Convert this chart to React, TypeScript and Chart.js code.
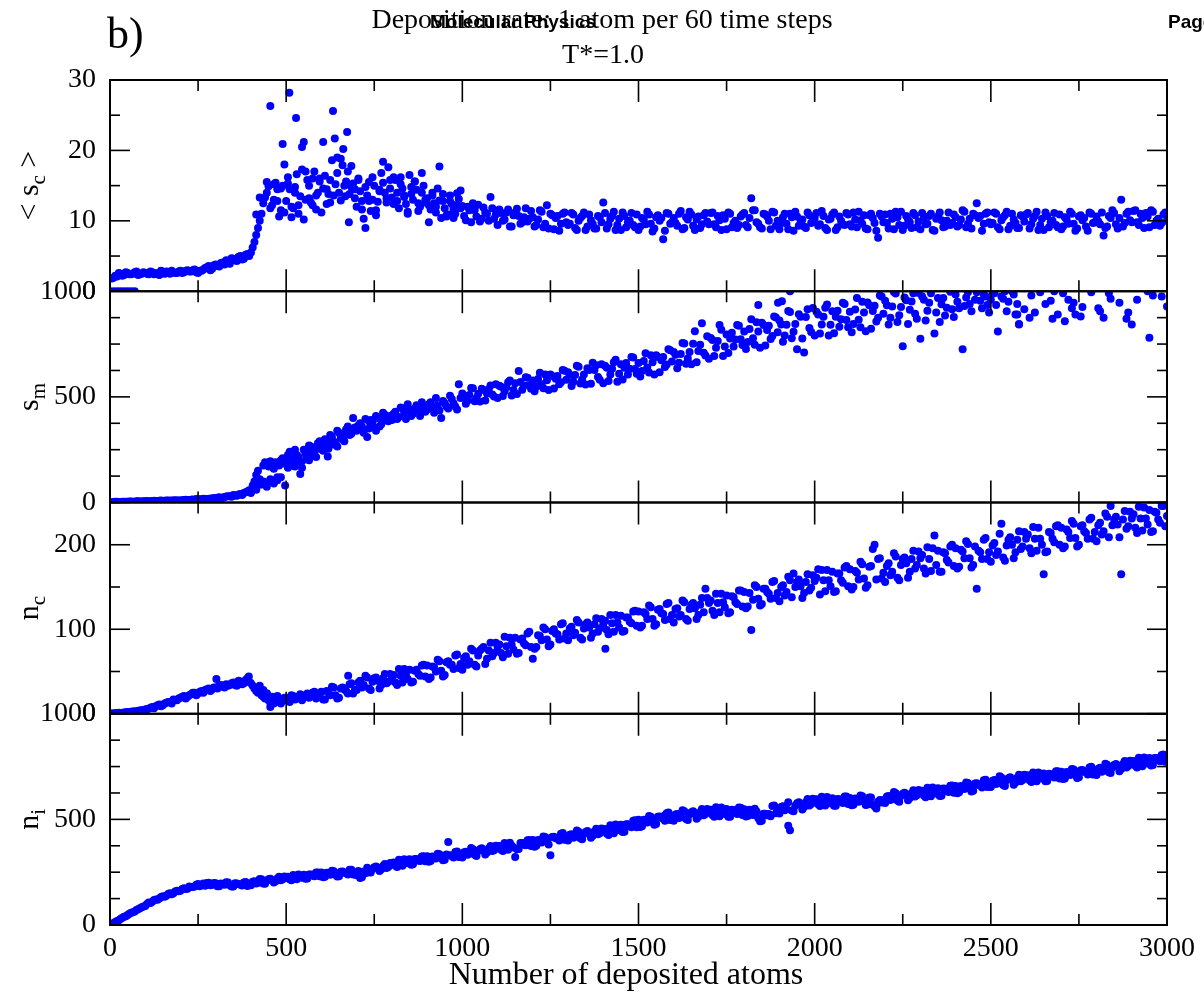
import React, { useEffect, useRef } from 'react';
import { Chart, registerables } from 'chart.js';

Chart.register(...registerables);

// ---------- data: two interleaved sample rows per quantity ----------
// run A sampled at 0,10,...,3000 ; run B sampled at 5,15,...,2995 (deposited atoms)
const SAMPLE_STEP = 10;
const OFFSET_B = 5;

// <s_c>
const scValues: (number | null)[] = [
  0, 1.9, 2.1, 2.5, 2.3, 2.6, 2.4, 2.7, 2.3, 2.5,
  2.6, 2.4, 2.7, 2.5, 2.3, 2.6, 2.8, 2.5, 2.7, 2.6,
  2.9, 2.7, 3.0, 2.8, 3.1, 2.6, 2.9, 3.3, 3.6, 3.2,
  3.8, 3.5, 4.1, 4.4, 3.9, 4.6, 4.3, 5.0, 4.6, 5.3,
  5.5, 7.0, 9.0, 11.0, 13.3, 14.9, 12.2, 15.4, 10.6, 15.0,
  12.8, 14.5, 11.8, 16.6, 13.5, 10.2, 15.8, 12.6, 17.0, 14.0,
  11.2, 16.4, 13.8, 18.6, 15.2, 14.0, 17.9, 15.6, 13.8, 15.3,
  12.0, 14.2, 10.3, 13.6, 11.4, 15.0, 12.7, 16.8, 14.0, 17.6,
  13.3, 15.8, 11.8, 14.6, 12.4, 16.5, 13.0, 14.4, 12.0, 15.0,
  13.2, 11.6, 12.5, 14.6, 10.4, 11.8, 10.9, 12.4, 11.0, 13.1,
  12.1, 10.1, 11.5, 12.5, 10.6, 9.9, 11.9, 11.0, 13.4, 10.3,
  9.4, 11.1, 10.2, 11.6, 9.2, 11.2, 10.7, 9.8, 11.8, 10.3,
  10.5, 9.4, 11.5, 9.1, 12.2, 11.0, 8.8, 10.7, 9.6, 11.2,
  9.4, 11.1, 9.0, 10.0, 10.7, 8.7, 10.9, 9.6, 8.9, 10.5,
  12.6, 8.9, 10.3, 11.3, 9.4, 8.7, 10.7, 9.8, 11.1, 9.1,
  8.7, 10.4, 9.5, 10.9, 8.5, 10.5, 10.0, 7.4, 11.1, 9.6,
  10.4, 9.3, 11.4, 9.0, 10.2, 10.9, 8.7, 10.6, 9.5, 11.1,
  9.5, 11.2, 9.1, 10.1, 10.8, 8.8, 11.0, 9.7, 9.0, 10.6,
  11.1, 9.1, 13.2, 11.5, 9.6, 8.9, 10.9, 10.0, 11.3, 9.3,
  8.8, 10.5, 9.6, 11.0, 8.6, 10.6, 10.1, 9.2, 11.2, 9.7,
  10.4, 9.3, 11.4, 9.0, 10.2, 10.9, 8.7, 10.6, 9.5, 11.1,
  9.5, 11.2, 9.1, 10.1, 10.8, 8.8, 11.0, 9.7, 7.6, 10.6,
  10.9, 8.9, 10.3, 11.3, 9.4, 8.7, 10.7, 9.8, 11.1, 9.1,
  8.8, 10.5, 9.6, 11.0, 8.6, 10.6, 10.1, 9.2, 11.2, 9.7,
  10.5, 9.4, 11.5, 9.1, 10.3, 11.0, 12.5, 10.7, 9.6, 11.2,
  9.5, 11.2, 9.1, 10.1, 10.8, 8.8, 11.0, 9.7, 9.0, 10.6,
  10.9, 8.9, 10.3, 11.3, 9.4, 8.7, 10.7, 9.8, 11.1, 9.1,
  8.8, 10.5, 9.6, 11.0, 8.6, 10.6, 10.1, 9.2, 11.2, 9.7,
  10.6, 9.5, 7.9, 9.2, 10.4, 11.1, 8.9, 13.0, 9.7, 11.3,
  9.8, 11.5, 9.4, 10.4, 11.1, 9.1, 11.3, 10.0, 9.3, 10.9,
  10.0,
];
const scValuesB: (number | null)[] = [
  1.8, 2.2, 2.6, 2.2, 2.7, 2.4, 2.5, 2.8, 2.4, 2.7,
  2.5, 2.8, 2.4, 2.6, 2.9, 2.5, 2.7, 2.9, 2.6, 2.8,
  2.6, 2.9, 2.8, 3.0, 2.7, 2.9, 3.1, 3.4, 3.0, 3.7,
  3.6, 4.0, 3.8, 4.2, 4.7, 4.4, 4.9, 4.5, 5.2, 5.0,
  6.2, 8.0, 10.0, 12.5, 14.0, 11.8, 15.2, 12.8, 14.6, 11.2,
  16.2, 12.0, 14.8, 11.0, 17.3, 13.0, 15.0, 12.2, 13.6, 16.0,
  14.6, 12.4, 15.8, 13.6, 16.8, 12.9, 15.0, 17.0, 14.8, 13.2,
  15.8, 11.6, 14.8, 12.8, 16.2, 10.8, 14.4, 15.4, 12.6, 14.6,
  16.2, 12.8, 15.2, 13.6, 11.0, 13.8, 15.6, 12.5, 14.0, 13.0,
  12.2, 13.6, 11.2, 12.9, 13.8, 10.6, 12.8, 11.6, 13.9, 11.8,
  10.7, 12.0, 9.8, 11.5, 12.3, 10.3, 11.2, 10.0, 11.8, 10.9,
  11.6, 10.0, 11.2, 9.2, 10.8, 11.7, 9.6, 10.5, 9.9, 11.4,
  9.2, 10.2, 11.3, 9.6, 8.9, 10.8, 10.4, 8.6, 11.0, 9.8,
  9.6, 10.9, 8.7, 10.4, 11.2, 9.2, 10.1, 8.9, 10.7, 9.8,
  11.1, 9.5, 10.7, 8.7, 10.3, 11.2, 9.1, 10.0, 9.4, 10.9,
  9.2, 10.2, 11.3, 9.6, 8.9, 10.8, 10.4, 8.6, 11.0, 9.8,
  9.7, 11.0, 8.8, 10.5, 11.3, 9.3, 10.2, 9.0, 10.8, 9.9,
  11.1, 9.5, 10.7, 8.7, 10.3, 11.2, 9.1, 10.0, 9.4, 10.9,
  9.4, 10.4, 11.5, 9.8, 9.1, 11.0, 10.6, 8.8, 11.2, 10.0,
  9.7, 11.0, 8.8, 10.5, 11.3, 9.3, 10.2, 9.0, 10.8, 9.9,
  11.1, 9.5, 10.7, 8.7, 10.3, 11.2, 9.1, 10.0, 9.4, 10.9,
  9.2, 10.2, 11.3, 9.6, 8.9, 10.8, 10.4, 8.6, 11.0, 9.8,
  9.7, 11.0, 8.8, 10.5, 11.3, 9.3, 10.2, 9.0, 10.8, 9.9,
  11.1, 9.5, 10.7, 8.7, 10.3, 11.2, 9.1, 10.0, 9.4, 10.9,
  9.2, 10.2, 11.3, 9.6, 8.9, 10.8, 10.4, 8.6, 11.0, 9.8,
  9.7, 11.0, 8.8, 10.5, 11.3, 9.3, 10.2, 9.0, 10.8, 9.9,
  11.1, 9.5, 10.7, 8.7, 10.3, 11.2, 9.1, 10.0, 9.4, 10.9,
  9.2, 10.2, 11.3, 9.6, 8.9, 10.8, 10.4, 8.6, 11.0, 9.8,
  9.9, 11.2, 9.0, 10.7, 11.5, 9.5, 10.4, 9.2, 11.0, 10.1,
  11.4, 9.8, 11.0, 9.0, 10.6, 11.5, 9.4, 10.3, 9.7, 11.2,
];
const scExtra: [number, number][] = [
  [10, 0], [20, 0], [30, 0], [40, 0], [50, 0], [60, 0], [70, 0],
  [415, 10.9], [425, 13.3], [445, 15.5], [455, 26.3], [465, 13.0], [475, 14.5], [485, 11.5],
  [490, 20.9], [495, 18.0], [505, 15.3], [509, 28.2], [515, 10.5], [525, 14.0], [528, 24.6],
  [535, 12.2], [545, 20.5], [550, 21.2], [555, 17.0], [565, 13.2], [575, 16.0], [585, 11.6],
  [595, 15.6], [605, 21.2], [615, 14.5], [625, 12.6], [633, 25.6], [638, 21.7], [645, 19.0],
  [655, 18.8], [662, 20.2], [668, 13.5], [673, 22.6], [678, 9.8], [685, 17.8], [695, 14.5],
  [705, 16.0], [715, 12.8], [725, 9.0], [735, 15.5], [745, 13.0], [755, 11.5], [765, 14.2],
  [775, 18.4], [785, 13.2], [795, 15.8], [805, 12.4], [815, 14.0], [825, 16.2], [835, 13.4],
  [845, 11.3], [855, 14.8], [865, 15.6], [875, 11.4], [885, 16.8], [895, 12.6], [905, 9.8],
  [915, 14.0], [925, 12.0], [935, 17.7], [945, 12.8], [955, 10.8], [965, 13.6], [975, 10.4],
  [985, 12.2], [995, 14.3],
];

// s_m
const smValues: (number | null)[] = [
  0, 2, 3, 1, 4, 3, 5, 4, 6, 5,
  6, 5, 7, 6, 8, 7, 9, 8, 10, 9,
  10, 12, 11, 13, 12, 15, 14, 17, 16, 18,
  20, 25, 22, 28, 30, 35, 32, 40, 45, 52,
  45, 100, 150, 85, 190, 170, 105, 190, 175, 210,
  200, 240, 185, 225, 135, 250, 215, 265, 240, 280,
  270, 300, 255, 310, 285, 330, 300, 345, 320, 400,
  340, 375, 330, 310, 390, 355, 400, 370, 415, 385,
  390, 430, 405, 445, 395, 440, 420, 460, 410, 450,
  440, 475, 425, 460, 400, 470, 445, 490, 455, 560,
  516, 468, 509, 541, 495, 478, 533, 516, 554, 502,
  495, 548, 527, 569, 506, 565, 622, 534, 593, 555,
  577, 548, 614, 541, 579, 606, 540, 599, 569, 624,
  617, 552, 604, 643, 582, 558, 627, 662, 650, 581,
  565, 638, 606, 664, 572, 655, 638, 606, 689, 632,
  660, 623, 707, 615, 664, 697, 616, 689, 653, 721,
  713, 636, 703, 753, 682, 655, 811, 717, 848, 696,
  680, 769, 732, 840, 694, 795, 776, 739, 840, 773,
  810, 760, 868, 747, 809, 851, 743, 837, 788, 876,
  862, 761, 842, 902, 808, 725, 879, 710, 915, 807,
  790, 890, 843, 922, 791, 905, 879, 832, 946, 864,
  903, 845, 968, 829, 900, 947, 823, 931, 874, 975,
  955, 843, 928, 989, 886, 740, 957, 912, 990, 870,
  775, 960, 908, 990, 800, 968, 938, 885, null, 915,
  985, 920, 725, 970, 940, null, 995, 955, 985, 935,
  960, 990, 810, 975, 1000, 950, 1000, 890, 845, null,
  null, 875, null, null, 995, null, null, 955, 1000, 890,
  null, 858, 960, 920, 890, null, 925, null, null, null,
  null, 905, 875, null, 964, null, null, null, null, 900,
  843, null, null, null, null, 780, 980, null, null, null,
  928,
];
const smValuesB: (number | null)[] = [
  1, 3, 2, 4, 3, 5, 4, 6, 5, 6,
  7, 6, 8, 7, 9, 8, 10, 9, 11, 10,
  11, 13, 12, 14, 16, 15, 18, 17, 19, 21,
  23, 21, 26, 30, 27, 33, 38, 36, 48, 58,
  80, 130, 110, 175, 95, 195, 160, 120, 200, 185,
  225, 175, 250, 215, 195, 240, 270, 225, 255, 290,
  245, 285, 320, 275, 340, 310, 290, 360, 325, 350,
  365, 345, 395, 350, 380, 410, 360, 425, 395, 405,
  420, 395, 450, 425, 465, 410, 445, 435, 475, 430,
  465, 445, 495, 435, 480, 455, 505, 470, 440, 495,
  507, 483, 542, 479, 515, 539, 483, 535, 511, 560,
  553, 504, 546, 577, 532, 514, 570, 553, 591, 539,
  527, 585, 560, 606, 533, 599, 586, 560, 627, 581,
  605, 572, 647, 563, 606, 636, 562, 627, 594, 654,
  647, 575, 633, 676, 609, 582, 660, 633, 686, 609,
  597, 670, 639, 697, 606, 689, 673, 641, 725, 668,
  700, 661, 755, 657, 713, 752, 664, 747, 709, 787,
  779, 694, 765, 818, 739, 708, 803, 772, 837, 746,
  727, 821, 778, 853, 732, 840, 817, 774, 881, 806,
  843, 791, 907, 778, 845, 891, 776, 878, 826, 921,
  903, 800, 879, 937, 841, 801, 908, 868, 940, 830,
  806, 914, 865, 950, 811, 934, 907, 857, 980, 893,
  934, 874, 996, 855, 925, 970, 845, 951, 893, 992,
  975, 862, 945, null, 900, 855, 968, 922, 998, 878,
  950, null, 930, 995, 905, 960, null, 920, 975, 900,
  990, 935, null, 965, 905, null, 985, 940, null, 915,
  null, 980, 900, null, null, 940, null, 870, null, null,
  990, null, null, 945, null, 880, null, null, 995, null,
  920, null, null, 990, null, null, 945, null, 870, null,
  null, 960, null, null, 1000, null, null, null, 975, null,
];
const smExtra: [number, number][] = [
  [405, 70], [415, 60], [425, 85], [435, 100], [445, 75], [455, 110], [465, 90], [475, 105],
  [485, 120], [497, 80], [505, 165], [515, 210], [525, 170], [535, 195], [545, 165], [555, 230],
  [565, 200], [575, 240], [585, 215], [595, 255], [618, 218], [625, 280], [645, 265], [665, 320],
  [685, 345], [695, 355], [715, 360], [735, 385], [755, 340], [775, 395], [795, 410],
  [1840, 935], [1896, 945], [1907, 953], [1930, 1000], [2575, 890], [2580, 843],
];

// n_c
const ncValues: (number | null)[] = [
  0, 0.5, 1, 0.8, 1.5, 2, 2.5, 3, 3.5, 4,
  5, 6, 8, 9, 11, 10, 13, 14, 17, 16,
  19, 21, 20, 23, 25, 24, 27, 28, 30, 29,
  31, 33, 32, 35, 34, 37, 33, 38, 36, 42,
  36, 30, 25, 22, 18, 16, 20, 14, 18, 15,
  19, 14, 21, 18, 23, 20, 24, 21, 26, 23,
  26, 17, 25, 32, 22, 19, 31, 27, 35, 24,
  28, 39, 34, 43, 28, 42, 39, 34, 47, 38,
  44, 37, 53, 37, 46, 52, 38, 52, 45, 58,
  57, 43, 55, 64, 51, 46, 62, 58, 69, 54,
  52, 68, 62, 75, 56, 75, 79, 65, 84, 72,
  79, 72, 91, 71, 82, 90, 72, 89, 81, 97,
  65, 79, 92, 102, 88, 82, 100, 94, 106, 89,
  87, 103, 96, 108, 88, 106, 102, 95, 113, 101,
  106, 99, 117, 97, 108, 116, 98, 114, 107, 122,
  121, 104, 118, 128, 112, 106, 124, 118, 130, 112,
  108, 125, 117, 132, 110, 129, 125, 117, 137, 148,
  131, 122, 142, 120, 132, 140, 120, 138, 130, 146,
  144, 127, 99, 152, 136, 130, 148, 142, 156, 137,
  133, 152, 144, 158, 166, 156, 151, 143, 165, 149,
  157, 171, 170, 145, 158, 168, 145, 166, 155, 175,
  171, 150, 167, 180, 160, 152, 175, 200, 183, 160,
  156, 178, 168, 186, 158, 183, 178, 168, 193, 176,
  184, 172, 197, 169, 211, 193, 168, 190, 179, 200,
  196, 174, 192, 204, 184, 176, 148, 191, 206, 183,
  180, 202, 192, 225, 181, 206, 200, 191, 216, 198,
  207, 196, 221, 193, 207, 165, 192, 214, 203, 223,
  220, 198, 215, 228, 208, 200, 223, 214, 230, 207,
  204, 226, 216, 233, 246, 230, 224, 165, 240, 222,
  231, 220, 245, 217, 231, 241, 216, 238, 226, 246,
  234,
];
const ncValuesB: (number | null)[] = [
  0.3, 0.6, 1.2, 1.0, 1.8, 1.5, 2.8, 2.2, 3.8, 4.5,
  5.5, 7, 6.5, 10, 9, 12, 14, 12, 16, 18,
  20, 18, 22, 25, 22, 26, 25, 29, 27, 31,
  30, 34, 31, 33, 36, 34, 39, 35, 40, 38,
  33, 27, 30, 20, 24, 13, 17, 21, 12, 19,
  16, 22, 17, 20, 16, 22, 19, 25, 18, 24,
  17, 27, 22, 31, 18, 30, 29, 24, 36, 28,
  37, 31, 45, 30, 38, 43, 30, 42, 36, 47,
  46, 34, 45, 53, 41, 37, 51, 47, 57, 44,
  41, 56, 50, 62, 44, 61, 58, 53, 70, 59,
  66, 58, 77, 58, 69, 77, 59, 75, 68, 84,
  82, 67, 80, 90, 76, 71, 88, 83, 95, 79,
  77, 93, 87, 100, 80, 98, 95, 88, 107, 95,
  101, 93, 111, 90, 101, 108, 90, 106, 97, 112,
  110, 94, 107, 117, 102, 97, 114, 109, 121, 104,
  102, 120, 112, 126, 104, 123, 119, 111, 131, 117,
  124, 115, 134, 112, 124, 131, 112, 129, 120, 137,
  134, 117, 131, 142, 126, 119, 139, 132, 146, 127,
  125, 143, 135, 150, 128, 148, 144, 136, 157, 143,
  150, 140, 162, 138, 150, 159, 137, 156, 146, 164,
  161, 141, 158, 170, 151, 144, 166, 158, 173, 151,
  147, 169, 159, 177, 149, 174, 195, 159, 184, 167,
  175, 164, 190, 161, 176, 185, 161, 183, 172, 192,
  188, 166, 183, 196, 176, 168, 191, 182, 198, 175,
  172, 194, 184, 201, 173, 198, 193, 183, 208, 191,
  199, 188, 213, 185, 199, 209, 184, 206, 195, 215,
  212, 190, 207, 220, 200, 191, 215, 207, 222, 200,
  196, 218, 208, 225, 198, 222, 216, 207, 232, 215,
  223, 212, 237, 209, 223, 233, 209, 230, 219, 239,
  236, 214, 231, 244, 224, 215, 239, 230, 246, 222,
];
const ncExtra: [number, number][] = [
  [302, 41], [394, 44], [425, 33], [435, 28], [445, 24], [455, 8], [465, 12], [475, 17],
  [676, 45], [1406, 77],
];

// n_i
const niValues: (number | null)[] = [
  0, 9, 19, 28, 39, 47, 58, 64, 75, 84,
  90, 106, 110, 121, 126, 136, 138, 150, 150, 162,
  162, 174, 172, 180, 182, 194, 190, 186, 200, 190,
  198, 183, 194, 202, 188, 182, 197, 191, 201, 185,
  188, 207, 200, 216, 195, 216, 213, 207, 228, 216,
  224, 216, 237, 216, 229, 238, 220, 239, 231, 249,
  248, 228, 245, 257, 238, 231, 253, 246, 261, 239,
  236, 222, 253, 271, 248, 273, 270, 264, 289, 275,
  290, 280, 309, 281, 299, 311, 287, 312, 303, 326,
  325, 303, 322, 337, 317, 309, 393, 327, 345, 322,
  320, 347, 338, 359, 327, 358, 353, 343, 374, 354,
  367, 356, 388, 356, 375, 322, 360, 388, 377, 402,
  402, 375, 400, 419, 394, 330, 418, 409, 432, 403,
  400, 430, 418, 442, 406, 440, 434, 422, 456, 434,
  447, 433, 472, 434, 458, 475, 442, 477, 463, 496,
  498, 468, 495, 516, 488, 478, 514, 504, 529, 497,
  493, 526, 511, 538, 497, 534, 526, 513, 549, 525,
  539, 521, 557, 515, 536, 549, 513, 544, 526, 555,
  548, 516, 541, 550, 505, 493, 527, 525, 563, 529,
  528, 562, 549, 448, 538, 576, 570, 558, 596, 573,
  589, 572, 607, 566, 587, 600, 564, 595, 578, 608,
  601, 569, 594, 613, 583, 570, 604, 562, 584, 580,
  578, 611, 597, 624, 584, 621, 614, 601, 638, 614,
  629, 613, 650, 610, 632, 647, 612, 645, 629, 660,
  658, 628, 654, 675, 646, 636, 671, 661, 685, 653,
  653, 686, 672, 698, 658, 695, 687, 674, 711, 686,
  702, 685, 722, 681, 703, 717, 682, 714, 698, 728,
  725, 694, 720, 739, 710, 699, 734, 723, 746, 713,
  710, 744, 731, 758, 719, 757, 751, 739, 776, 753,
  769, 754, 792, 752, 775, 791, 757, 791, 775, 807,
  790,
];
const niValuesB: (number | null)[] = [
  4, 14, 23, 34, 42, 53, 60, 71, 79, 88,
  100, 104, 118, 120, 133, 134, 147, 146, 158, 160,
  170, 171, 182, 180, 190, 183, 196, 199, 188, 199,
  183, 197, 190, 201, 182, 198, 194, 187, 203, 191,
  205, 197, 218, 197, 210, 219, 201, 220, 212, 230,
  228, 212, 227, 239, 224, 219, 239, 234, 248, 231,
  226, 247, 238, 254, 229, 252, 247, 239, 262, 246,
  256, 226, 245, 250, 265, 277, 256, 279, 270, 293,
  296, 275, 295, 311, 292, 285, 312, 305, 324, 302,
  300, 324, 315, 335, 306, 334, 330, 320, 348, 331,
  344, 332, 364, 332, 350, 363, 334, 362, 350, 375,
  374, 350, 373, 389, 367, 359, 388, 380, 401, 374,
  371, 402, 391, 416, 381, 416, 411, 400, 435, 414,
  427, 413, 447, 411, 431, 445, 413, 443, 429, 457,
  455, 426, 454, 476, 449, 440, 477, 468, 494, 463,
  464, 498, 485, 513, 474, 512, 506, 494, 532, 509,
  523, 506, 543, 502, 524, 538, 503, 535, 519, 549,
  545, 513, 537, 556, 525, 513, 546, 533, 556, 521,
  514, 546, 521, 537, 491, 527, 519, 515, 566, 541,
  558, 543, 581, 542, 565, 581, 547, 581, 566, 598,
  595, 563, 588, 606, 576, 564, 597, 585, 608, 573,
  567, 599, 583, 609, 568, 604, 570, 551, 592, 592,
  608, 592, 629, 589, 611, 626, 591, 624, 608, 639,
  636, 605, 631, 651, 622, 611, 646, 635, 659, 626,
  624, 658, 644, 672, 632, 670, 663, 651, 688, 665,
  683, 667, 704, 663, 685, 700, 664, 697, 681, 711,
  709, 677, 703, 722, 693, 681, 716, 704, 728, 694,
  691, 724, 710, 736, 696, 733, 726, 713, 749, 725,
  740, 725, 763, 723, 746, 762, 728, 762, 746, 778,
  776, 746, 773, 793, 765, 755, 791, 781, 805, 773,
];
const niExtra: [number, number][] = [
  [1925, 470], [1575, 520], [2175, 560],
];

// axes
const X_MIN = 0;
const X_MAX = 3000;
const X_MINOR = 250;
const X_MAJOR = 500;

const PANELS = [
  { id: 'ySc', a: scValues, b: scValuesB, extra: scExtra, max: 30, minor: 5, major: 10, label: ['< s', 'c', ' >'] },
  { id: 'ySm', a: smValues, b: smValuesB, extra: smExtra, max: 1000, minor: 125, major: 500, label: ['s', 'm', ''] },
  { id: 'yNc', a: ncValues, b: ncValuesB, extra: ncExtra, max: 250, minor: 50, major: 100, label: ['n', 'c', ''] },
  { id: 'yNi', a: niValues, b: niValuesB, extra: niExtra, max: 1000, minor: 125, major: 500, label: ['n', 'i', ''] },
];

const TITLE = 'Deposition rate: 1 atom per 60 time steps';
const SUBTITLE = 'T*=1.0';
const X_TITLE = 'Number of deposited atoms';
const PANEL_TAG = 'b)';
const HEADER_JOURNAL = 'Molecular Physics';
const HEADER_PAGE = 'Page';

const SERIF = '"Liberation Serif", "Times New Roman", Times, serif';
const SANS = '"Liberation Sans", Arial, Helvetica, sans-serif';
const BLUE = '#0000ff';
const POINT_R = 4;

function toPoints(values: (number | null)[], offset: number) {
  return values.map((v, i) => ({ x: offset + i * SAMPLE_STEP, y: v }));
}

const framePlugin = {
  id: 'frames',
  afterDatasetsDraw(chart: any) {
    const ctx = chart.ctx as CanvasRenderingContext2D;
    const area = chart.chartArea;
    const xs = chart.scales.x;
    const seg = (x1: number, y1: number, x2: number, y2: number) => {
      ctx.beginPath();
      ctx.moveTo(x1, y1);
      ctx.lineTo(x2, y2);
      ctx.stroke();
    };
    ctx.save();
    ctx.strokeStyle = '#000';
    PANELS.forEach((p) => {
      const ys = chart.scales[p.id];
      const top = ys.top;
      const bottom = ys.bottom;
      ctx.lineWidth = 1.6;
      ys.ticks.forEach((t: any) => {
        const y = ys.getPixelForValue(t.value);
        const len = t.value % p.major === 0 ? 20 : 10;
        seg(area.left, y, area.left + len, y);
        seg(area.right, y, area.right - len, y);
      });
      xs.ticks.forEach((t: any) => {
        const x = xs.getPixelForValue(t.value);
        const len = t.value % X_MAJOR === 0 ? 22 : 11;
        seg(x, bottom, x, bottom - len);
        seg(x, top, x, top + len);
      });
      ctx.lineWidth = 2;
      ctx.strokeRect(area.left, top, area.right - area.left, bottom - top);
    });
    ctx.restore();
  },
  afterDraw(chart: any) {
    const ctx = chart.ctx as CanvasRenderingContext2D;
    ctx.save();
    ctx.fillStyle = '#000';
    ctx.textBaseline = 'alphabetic';

    ctx.font = `44px ${SERIF}`;
    ctx.textAlign = 'left';
    ctx.fillText(PANEL_TAG, 107, 48);

    ctx.font = `28px ${SERIF}`;
    ctx.textAlign = 'center';
    ctx.fillText(TITLE, 602, 28);
    ctx.fillText(SUBTITLE, 603, 63);

    ctx.font = `bold 19px ${SANS}`;
    ctx.textAlign = 'left';
    ctx.fillText(HEADER_JOURNAL, 430, 28);
    ctx.fillText(HEADER_PAGE, 1168, 28);

    ctx.font = `32px ${SERIF}`;
    ctx.textAlign = 'center';
    ctx.fillText(X_TITLE, 626, 984);

    PANELS.forEach((p) => {
      const ys = chart.scales[p.id];
      const yc = (ys.top + ys.bottom) / 2;
      const [main, sub, tail] = p.label;
      const mainFont = `30px ${SERIF}`;
      const subFont = `21px ${SERIF}`;
      ctx.font = mainFont;
      const wMain = ctx.measureText(main).width;
      const wTail = ctx.measureText(tail).width;
      ctx.font = subFont;
      const wSub = ctx.measureText(sub).width;
      const total = wMain + wSub + wTail;
      ctx.save();
      ctx.translate(38, yc);
      ctx.rotate(-Math.PI / 2);
      ctx.textAlign = 'left';
      let cx = -total / 2;
      ctx.font = mainFont;
      ctx.fillText(main, cx, 0);
      cx += wMain;
      ctx.font = subFont;
      ctx.fillText(sub, cx, 7);
      cx += wSub;
      ctx.font = mainFont;
      if (tail) ctx.fillText(tail, cx, 0);
      ctx.restore();
    });
    ctx.restore();
  },
};

export default function App() {
  const canvasRef = useRef<HTMLCanvasElement | null>(null);

  useEffect(() => {
    document.body.style.margin = '0';
    const canvas = canvasRef.current;
    if (!canvas) return;

    const makeSet = (label: string, data: any[], yAxisID: string) => ({
      label,
      data,
      yAxisID,
      xAxisID: 'x',
      backgroundColor: BLUE,
      borderWidth: 0,
      pointRadius: POINT_R,
      pointHoverRadius: POINT_R,
      showLine: false,
    });

    const datasets: any[] = [];
    PANELS.forEach((p) => {
      datasets.push(makeSet(p.id + 'A', toPoints(p.a, 0), p.id));
      datasets.push(makeSet(p.id + 'B', toPoints(p.b, OFFSET_B), p.id));
      datasets.push(makeSet(p.id + 'X', p.extra.map(([x, y]) => ({ x, y })), p.id));
    });

    const tickFont = { family: SERIF, size: 28 };
    const yScale = (p: any) => ({
      type: 'linear',
      position: 'left',
      stack: 'panels',
      stackWeight: 1,
      min: 0,
      max: p.max,
      grid: { display: false, drawTicks: false },
      border: { display: false },
      ticks: {
        stepSize: p.minor,
        autoSkip: false,
        includeBounds: false,
        color: '#000',
        font: tickFont,
        padding: 14,
        callback: (v: number) => (v % p.major === 0 ? String(v) : ''),
      },
      afterFit: (s: any) => {
        s.width = 110;
      },
    });

    const scales: any = {
      x: {
        type: 'linear',
        position: 'bottom',
        min: X_MIN,
        max: X_MAX,
        grid: { display: false, drawTicks: false },
        border: { display: false },
        ticks: {
          stepSize: X_MINOR,
          autoSkip: false,
          maxRotation: 0,
          color: '#000',
          font: tickFont,
          padding: 7,
          callback: (v: number) => (v % X_MAJOR === 0 ? String(v) : ''),
        },
        afterFit: (s: any) => {
          s.height = 72;
        },
      },
    };
    [...PANELS].reverse().forEach((p) => {
      scales[p.id] = yScale(p);
    });

    const chart = new Chart(canvas, {
      type: 'scatter',
      data: { datasets },
      options: {
        responsive: false,
        animation: false,
        devicePixelRatio: 1,
        layout: { padding: { top: 80, left: 0, right: 37, bottom: 0 } },
        plugins: {
          legend: { display: false },
          tooltip: { enabled: false },
          title: { display: false },
        },
        scales,
      } as any,
      plugins: [framePlugin],
    });

    return () => chart.destroy();
  }, []);

  return (
    <div style={{ width: 1204, height: 997, background: '#fff' }}>
      <canvas ref={canvasRef} width={1204} height={997} style={{ display: 'block' }} />
    </div>
  );
}
